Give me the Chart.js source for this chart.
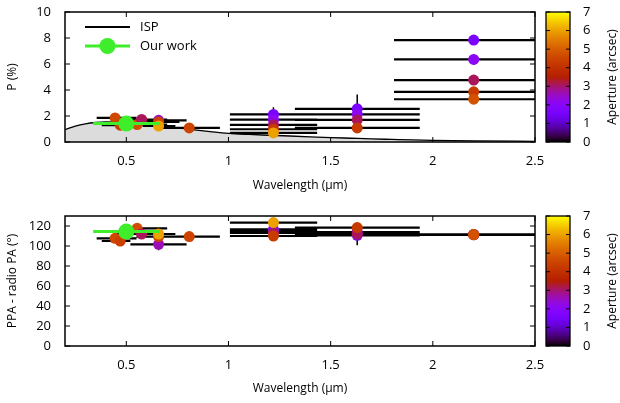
<!DOCTYPE html>
<html>
<head>
<meta charset="utf-8">
<script src="https://cdn.jsdelivr.net/npm/chart.js@4.4.0/dist/chart.umd.min.js"></script>
<style>
  body { margin: 0; background: #fff; }
  #wrap { position: relative; width: 620px; height: 403px; }
  canvas { position: absolute; left: 0; }
</style>
</head>
<body>
<div id="wrap">
  <canvas id="topChart" width="620" height="200" style="top:0"></canvas>
  <canvas id="bottomChart" width="620" height="203" style="top:200px"></canvas>
</div>
<script>
// axis ticks
const xTicks = [0.5, 1, 1.5, 2, 2.5];
const pTicks = [0, 2, 4, 6, 8, 10];
const paTicks = [0, 20, 40, 60, 80, 100, 120];
const apTicks = [0, 1, 2, 3, 4, 5, 6, 7];

// measurements: V band (first 8), J (5), H (4), K (5)
const wave   = [0.445, 0.47, 0.553, 0.575, 0.658, 0.658, 0.658, 0.808,
                1.22, 1.22, 1.22, 1.22, 1.22,
                1.63, 1.63, 1.63, 1.63,
                2.2, 2.2, 2.2, 2.2, 2.2];
const waveLo = [0.355, 0.38, 0.50, 0.45, 0.52, 0.55, 0.58, 0.66,
                1.007, 1.007, 1.007, 1.007, 1.007,
                1.325, 1.325, 1.325, 1.325,
                1.81, 1.81, 1.81, 1.81, 1.81];
const waveHi = [0.55, 0.52, 0.70, 0.70, 0.795, 0.76, 0.74, 0.958,
                1.434, 1.434, 1.434, 1.434, 1.434,
                1.936, 1.936, 1.936, 1.936,
                2.59, 2.59, 2.59, 2.59, 2.59];
const polP    = [1.85, 1.29, 1.34, 1.73, 1.67, 1.54, 1.23, 1.08,
                 2.12, 1.72, 1.32, 0.98, 0.70,
                 2.55, 2.13, 1.70, 1.08,
                 7.84, 6.35, 4.76, 3.86, 3.29];
const polPErr = [0.1, 0.1, 0.1, 0.1, 0.1, 0.1, 0.1, 0.1,
                 0.55, 0.15, 0.1, 0.1, 0.1,
                 1.1, 0.2, 0.2, 0.1,
                 0.35, 0.4, 0.15, 0.15, 0.15];
const ppa     = [107.7, 105.0, 117.7, 112.0, 101.7, 109.4, 112.0, 109.4,
                 114.5, 116.7, 113.0, 110.0, 123.4,
                 110.7, 114.0, 112.0, 118.4,
                 111.5, 111.3, 111.6, 111.2, 111.4];
const ppaErr  = [2, 2, 2, 2, 6, 2, 2, 2,
                 3, 2, 2, 2, 2,
                 10, 3, 2, 2,
                 2, 2, 2, 2, 2];
const aperture = [4.6, 4.4, 4.7, 3.1, 2.6, 4.5, 6.0, 4.5,
                  1.6, 2.1, 3.1, 4.3, 6.0,
                  1.6, 2.1, 3.1, 4.3,
                  1.6, 2.1, 3.1, 4.3, 4.8];

// our work
const ourWave = 0.5, ourLo = 0.338, ourHi = 0.665;
const ourP = 1.42, ourPA = 114.4;

// ISP curve
const ispWave = [0.2, 0.25, 0.3, 0.35, 0.4, 0.45, 0.5, 0.6, 0.7, 0.8, 0.9, 1.0, 1.1, 1.2,
                 1.3, 1.4, 1.5, 1.6, 1.7, 1.8, 1.9, 2.0, 2.2, 2.5];
const ispP = [0.95, 1.22, 1.40, 1.50, 1.54, 1.53, 1.48, 1.35, 1.18, 1.0, 0.82, 0.66, 0.58, 0.52,
              0.46, 0.40, 0.34, 0.29, 0.24, 0.20, 0.16, 0.13, 0.09, 0.05];

const legendLabels = ['ISP', 'Our work'];

const GREEN = '#3fee2a';
const FONT = '"Open Sans", sans-serif';
Chart.defaults.font.family = FONT;
Chart.defaults.color = '#000';

// gnuplot default palette (7,5,15)
function apColor(a) {
  const t = Math.min(Math.max(a / 7, 0), 1);
  const r = Math.sqrt(t), g = t * t * t, b = Math.max(0, Math.sin(2 * Math.PI * t));
  return 'rgb(' + Math.round(r * 255) + ',' + Math.round(g * 255) + ',' + Math.round(b * 255) + ')';
}

function hBars(vals) {
  const out = [];
  wave.forEach((w, i) => {
    out.push({x: waveLo[i], y: vals[i]}, {x: waveHi[i], y: vals[i]}, {x: waveHi[i], y: null});
  });
  return out;
}
function vBars(vals, errs) {
  const out = [];
  wave.forEach((w, i) => {
    out.push({x: w, y: vals[i] - errs[i]}, {x: w, y: vals[i] + errs[i]}, {x: w, y: null});
  });
  return out;
}

const framePlugin = {
  id: 'frame',
  afterDatasetsDraw(chart) {
    const ctx = chart.ctx, a = chart.chartArea;
    const xs = chart.scales.x, ys = chart.scales.y, cb = chart.scales.cb;
    ctx.save();
    ctx.strokeStyle = '#000';
    ctx.lineWidth = 1;
    ctx.beginPath();
    xs.ticks.forEach(t => {
      const p = xs.getPixelForValue(t.value);
      ctx.moveTo(p, a.bottom); ctx.lineTo(p, a.bottom - 5);
      ctx.moveTo(p, a.top); ctx.lineTo(p, a.top + 5);
    });
    ys.ticks.forEach(t => {
      const p = ys.getPixelForValue(t.value);
      ctx.moveTo(a.left, p); ctx.lineTo(a.left + 5, p);
      ctx.moveTo(a.right, p); ctx.lineTo(a.right - 5, p);
    });
    ctx.stroke();
    ctx.lineWidth = 1.5;
    ctx.strokeRect(a.left, a.top, a.right - a.left, a.bottom - a.top);

    // colour bar
    const x0 = a.right + 11, w = 24;
    const yTop = cb.getPixelForValue(7), yBot = cb.getPixelForValue(0);
    const grad = ctx.createLinearGradient(0, yBot, 0, yTop);
    for (let i = 0; i <= 28; i++) grad.addColorStop(i / 28, apColor(7 * i / 28));
    ctx.fillStyle = grad;
    ctx.fillRect(x0, yTop, w, yBot - yTop);
    ctx.lineWidth = 1;
    ctx.beginPath();
    cb.ticks.forEach(t => {
      const p = cb.getPixelForValue(t.value);
      ctx.moveTo(x0, p); ctx.lineTo(x0 + 4, p);
      ctx.moveTo(x0 + w, p); ctx.lineTo(x0 + w - 4, p);
    });
    ctx.stroke();
    ctx.lineWidth = 1.3;
    ctx.strokeRect(x0, yTop, w, yBot - yTop);

    ctx.translate(613, (yTop + yBot) / 2);
    ctx.rotate(-Math.PI / 2);
    ctx.fillStyle = '#000';
    ctx.font = '12px ' + FONT;
    ctx.textAlign = 'center';
    ctx.textBaseline = 'middle';
    ctx.fillText('Aperture (arcsec)', 0, 0);
    ctx.restore();
  }
};

const legendPlugin = {
  id: 'insideLegend',
  afterDraw(chart) {
    const ctx = chart.ctx, a = chart.chartArea;
    const x0 = a.left + 20, x1 = a.left + 65, tx = a.left + 75;
    ctx.save();
    ctx.font = '13px ' + FONT;
    ctx.textBaseline = 'middle';
    ctx.fillStyle = '#000';
    // ISP
    let y = a.top + 15;
    ctx.strokeStyle = '#000'; ctx.lineWidth = 2;
    ctx.beginPath(); ctx.moveTo(x0, y); ctx.lineTo(x1, y); ctx.stroke();
    ctx.fillText(legendLabels[0], tx, y);
    // our work
    y = a.top + 34;
    ctx.strokeStyle = GREEN; ctx.lineWidth = 3;
    ctx.beginPath(); ctx.moveTo(x0, y); ctx.lineTo(x1, y); ctx.stroke();
    ctx.fillStyle = GREEN;
    ctx.beginPath(); ctx.arc((x0 + x1) / 2, y, 8, 0, Math.PI * 2); ctx.fill();
    ctx.fillStyle = '#000';
    ctx.fillText(legendLabels[1], tx, y);
    ctx.restore();
  }
};

// vertical scales: fixed width, no label overflow padding
function fixV(width) {
  return s => { s.width = width; s.paddingTop = 0; s.paddingBottom = 0; };
}

function makeScales(yMin, yMax, yTicks, yTitle, xHeight, xTitlePad) {
  return {
    x: {
      type: 'linear', min: 0.2, max: 2.5,
      afterBuildTicks: s => { s.ticks = xTicks.map(v => ({value: v})); },
      afterFit: s => { s.height = xHeight; },
      grid: {display: false, drawTicks: false},
      border: {display: false},
      ticks: {font: {size: 13}, padding: 11, maxRotation: 0, autoSkip: false, callback: v => String(v)},
      title: {display: true, text: 'Wavelength (μm)', font: {size: 12}, padding: {top: 0, bottom: xTitlePad}}
    },
    y: {
      type: 'linear', min: yMin, max: yMax,
      afterBuildTicks: s => { s.ticks = yTicks.map(v => ({value: v})); },
      afterFit: fixV(65),
      grid: {display: false, drawTicks: false},
      border: {display: false},
      ticks: {font: {size: 13}, padding: 14, autoSkip: false},
      title: {display: true, text: yTitle, font: {size: 12}, padding: {top: 5, bottom: 0}}
    },
    cb: {
      type: 'linear', axis: 'y', position: 'right', min: 0, max: 7,
      afterBuildTicks: s => { s.ticks = apTicks.map(v => ({value: v})); },
      afterFit: fixV(85),
      grid: {display: false, drawTicks: false},
      border: {display: false},
      ticks: {font: {size: 13}, padding: 48, autoSkip: false}
    }
  };
}

const commonOpts = {
  responsive: false,
  animation: false,
  plugins: {legend: {display: false}, tooltip: {enabled: false}}
};

const pointColors = aperture.map(apColor);

new Chart(document.getElementById('topChart'), {
  type: 'line',
  data: {
    datasets: [
      {
        data: ispWave.map((w, i) => ({x: w, y: ispP[i]})),
        borderColor: '#000', borderWidth: 1.3, backgroundColor: '#dcdcdc',
        fill: 'origin', pointRadius: 0, cubicInterpolationMode: 'monotone', order: 6
      },
      {
        data: hBars(polP), borderColor: '#000', borderWidth: 2.2,
        pointRadius: 0, fill: false, order: 5
      },
      {
        data: vBars(polP, polPErr), borderColor: '#000', borderWidth: 1.5,
        pointRadius: 0, fill: false, order: 4
      },
      {
        data: wave.map((w, i) => ({x: w, y: polP[i]})), showLine: false,
        pointRadius: 5.5, pointBorderWidth: 0, pointBackgroundColor: pointColors, order: 3
      },
      {
        data: [{x: ourLo, y: ourP}, {x: ourHi, y: ourP}], borderColor: GREEN, borderWidth: 3,
        pointRadius: 0, fill: false, order: 2
      },
      {
        data: [{x: ourWave, y: ourP}], showLine: false,
        pointRadius: 8, pointBorderWidth: 0, pointBackgroundColor: GREEN, order: 1
      }
    ]
  },
  options: Object.assign({}, commonOpts, {
    layout: {padding: {top: 12, left: 0, right: 0, bottom: 0}},
    scales: makeScales(0, 10, pTicks, 'P (%)', 58, 7)
  }),
  plugins: [framePlugin, legendPlugin]
});

new Chart(document.getElementById('bottomChart'), {
  type: 'line',
  data: {
    datasets: [
      {
        data: hBars(ppa), borderColor: '#000', borderWidth: 2.2,
        pointRadius: 0, fill: false, order: 5
      },
      {
        data: vBars(ppa, ppaErr), borderColor: '#000', borderWidth: 1.5,
        pointRadius: 0, fill: false, order: 4
      },
      {
        data: wave.map((w, i) => ({x: w, y: ppa[i]})), showLine: false,
        pointRadius: 5.5, pointBorderWidth: 0, pointBackgroundColor: pointColors, order: 3
      },
      {
        data: [{x: ourLo, y: ourPA}, {x: ourHi, y: ourPA}], borderColor: GREEN, borderWidth: 3,
        pointRadius: 0, fill: false, order: 2
      },
      {
        data: [{x: ourWave, y: ourPA}], showLine: false,
        pointRadius: 8, pointBorderWidth: 0, pointBackgroundColor: GREEN, order: 1
      }
    ]
  },
  options: Object.assign({}, commonOpts, {
    layout: {padding: {top: 16, left: 0, right: 0, bottom: 0}},
    scales: makeScales(0, 130, paTicks, 'PPA - radio PA (°)', 57, 7)
  }),
  plugins: [framePlugin]
});
</script>
</body>
</html>
